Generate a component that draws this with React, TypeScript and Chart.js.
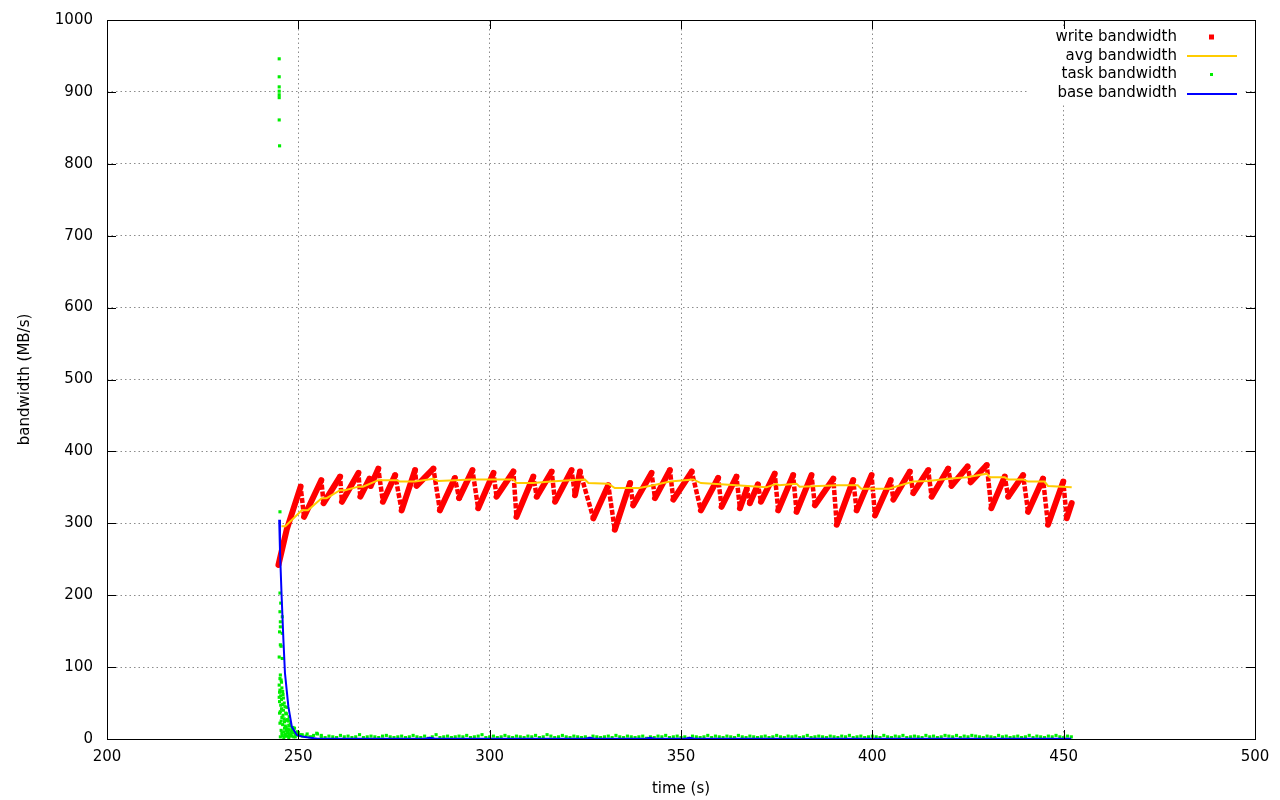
import { useEffect, useRef } from 'react';
import { Chart, registerables } from 'chart.js';

Chart.register(...registerables);

const FONT_FAMILY = '"DejaVu Sans", "Noto Sans", sans-serif';
const FONT_SIZE = 15;

// write bandwidth: sawtooth vertices (time s, MB/s)
const writeTimes = [
  244.8, 247.0, 250.6, 251.5, 256.0, 256.6, 260.9, 261.4, 265.7, 266.2,
  268.6, 268.9, 270.9, 272.1, 275.3, 277.0, 280.5, 280.9, 285.3, 287.0,
  290.9, 292.0, 295.5, 297.0, 301.0, 301.8, 306.2, 307.0, 311.4, 312.3,
  316.2, 317.1, 321.4, 322.3, 323.6, 327.1, 331.0, 332.7, 336.7, 337.5,
  342.3, 343.2, 347.1, 348.0, 352.8, 355.2, 359.7, 360.6, 364.5, 365.4,
  367.2, 368.0, 370.1, 370.9, 374.5, 375.4, 379.3, 380.2, 384.1, 385.0,
  389.8, 390.7, 395.0, 395.9, 399.8, 400.7, 404.8, 405.5, 409.8, 410.7,
  414.6, 415.5, 419.8, 420.7, 424.9, 425.7, 429.9, 431.1, 434.6, 435.5,
  439.4, 440.7, 444.6, 445.9, 449.9, 450.8, 452.1,
];
const writeValues = [
  242, 292, 351, 309, 360, 328, 365, 330, 370, 337,
  362, 352, 376, 330, 367, 318, 374, 352, 376, 318,
  363, 335, 374, 321, 370, 337, 372, 309, 365, 337,
  372, 330, 374, 339, 372, 307, 353, 291, 356, 325,
  370, 335, 374, 333, 372, 318, 363, 323, 365, 321,
  348, 328, 354, 330, 369, 318, 367, 316, 367, 325,
  362, 298, 360, 318, 367, 311, 360, 333, 372, 342,
  374, 337, 376, 352, 379, 357, 381, 321, 365, 337,
  367, 316, 362, 298, 358, 307, 328,
];

// avg bandwidth
const avgTimes = [
  245.6, 246.6, 250.9, 252.5, 256.1, 257.4, 260.9, 262.2, 265.7, 266.9,
  270.9, 275.7, 276.5, 280.5, 285.3, 286.5, 291.0, 295.0, 306.2, 307.0,
  311.4, 316.0, 321.0, 324.9, 325.8, 331.0, 332.7, 339.1, 342.8, 347.1,
  353.2, 355.2, 364.5, 372.3, 374.9, 375.6, 380.2, 381.0, 391.0, 396.2,
  397.1, 404.3, 410.7, 414.6, 419.8, 424.7, 429.9, 430.7, 434.6, 435.5,
  439.4, 440.7, 445.0, 445.9, 452.1,
];
const avgValues = [
  296, 296, 318, 318, 335, 335, 346, 346, 351, 351,
  360, 360, 358, 358, 362, 359, 360, 361, 361, 356,
  356, 358, 360, 361, 356, 355, 349, 349, 353, 358,
  361, 356, 353, 350, 355, 353, 355, 351, 353, 353,
  348, 348, 358, 359, 362, 364, 369, 364, 364, 361,
  361, 358, 358, 352, 350,
];

// task bandwidth: start-up burst
const taskBurstTimes = [
  245.0, 245.0, 245.0, 245.0, 245.0, 245.0, 245.0, 245.1, 245.2, 245.2,
  245.4, 245.2, 245.8, 245.3, 245.3, 245.1, 245.8, 245.3, 245.5, 245.0,
  245.8, 245.3, 245.5, 245.0, 245.2, 245.4, 245.1, 245.6, 245.9, 246.1,
  245.3, 245.7, 246.3, 245.2, 245.9, 246.6, 245.5, 246.2, 246.9, 247.3,
  245.8, 246.5, 247.7, 248.2, 248.8, 249.5, 245.1, 245.6, 246.0, 246.4,
  246.8, 247.1, 247.5, 248.0, 248.5, 249.0, 249.3, 245.0, 245.4, 245.7,
  246.0, 246.3, 246.7, 247.0, 247.2, 247.6, 247.9, 248.3, 248.6, 249.1,
  249.7, 250.4, 245.2, 245.6, 246.1, 246.5, 246.9, 247.4, 247.8, 248.4,
  245.1, 245.5, 245.9, 246.4, 246.8, 247.2, 247.6, 248.1, 245.3, 245.7,
  246.2, 246.6, 247.0, 247.5, 248.7, 249.2, 250.1, 251.0, 252.3, 253.6,
  254.8, 256.0,
];
const taskBurstValues = [
  946, 921, 907, 901, 896, 892, 861, 825, 316, 203,
  189, 177, 170, 163, 156, 149, 147, 131, 129, 114,
  112, 89, 82, 75, 68, 60, 52, 55, 48, 40,
  38, 30, 28, 22, 20, 18, 12, 10, 12, 8,
  5, 4, 6, 4, 3, 6, 65, 42, 33, 24,
  16, 14, 19, 9, 13, 15, 7, 58, 47, 71,
  62, 50, 36, 44, 27, 31, 21, 11, 16, 8,
  10, 6, 84, 79, 57, 45, 35, 25, 18, 14,
  36, 25, 66, 15, 26, 9, 13, 5, 3, 8,
  2, 7, 4, 2, 9, 3, 5, 4, 7, 3,
  8, 5,
];

// task bandwidth: steady part, one sample per second from taskBaseStart
const taskBaseStart = 250;
const taskBaseValues = [
  9, 6, 4, 3, 5, 7, 3, 2, 4, 3,
  2, 5, 3, 4, 2, 3, 6, 2, 3, 4,
  3, 2, 4, 5, 3, 2, 3, 4, 2, 3,
  5, 3, 2, 4, 1, 3, 6, 2, 3, 4,
  2, 3, 4, 3, 5, 2, 3, 4, 6, 2,
  3, 4, 2, 3, 5, 3, 2, 4, 3, 2,
  4, 3, 5, 2, 3, 6, 4, 2, 3, 5,
  3, 2, 4, 3, 2, 3, 1, 4, 3, 2,
  3, 4, 2, 5, 3, 2, 4, 3, 2, 3,
  4, 1, 3, 2, 4, 3, 5, 2, 3, 4,
  2, 3, 1, 4, 3, 2, 3, 5, 2, 4,
  3, 2, 4, 3, 2, 5, 3, 2, 4, 3,
  2, 3, 4, 2, 3, 5, 3, 2, 4, 3,
  4, 2, 3, 5, 2, 3, 4, 3, 2, 4,
  3, 2, 4, 3, 5, 2, 3, 4, 2, 3,
  4, 3, 2, 5, 3, 2, 4, 3, 5, 2,
  3, 4, 3, 2, 5, 3, 4, 2, 3, 5,
  4, 3, 5, 2, 4, 3, 5, 4, 3, 2,
  4, 3, 2, 5, 3, 4, 2, 3, 4, 2,
  3, 5, 2, 4, 3, 2, 4, 3, 5, 3,
  2, 4, 3,
];

// base bandwidth
const baseTimes = [
  245.0, 245.2, 245.6, 246.1, 246.5, 247.4, 248.3, 249.6, 251.3, 255.0,
  283.0, 284.4, 285.8, 325.0, 326.2, 327.4, 340.7, 341.9, 343.1, 351.1,
  352.3, 353.5, 452.0,
];
const baseValues = [
  305, 263, 203, 138, 92, 45, 17, 5.6, 3, 0.4,
  0.4, 1.8, 0.4, 0.4, 1.8, 0.4, 0.4, 1.8, 0.4, 0.4,
  1.8, 0.4, 0.4,
];

const xMin = 200;
const xMax = 500;
const xStep = 50;
const yMin = 0;
const yMax = 1000;
const yStep = 100;

const legendLabels = ['write bandwidth', 'avg bandwidth', 'task bandwidth', 'base bandwidth'];
const seriesColors = ['#ff0000', '#ffcc00', '#00ee00', '#0000ff'];

const pairs = (xs: number[], ys: number[]) => xs.map((x, i) => ({ x, y: ys[i] }));

const framePlugin = {
  id: 'gnuplotFrame',
  afterDatasetsDraw(chart: any) {
    const { ctx, chartArea } = chart;
    const { left, right, top, bottom } = chartArea;
    const xs = chart.scales.x;
    const ys = chart.scales.y;
    ctx.save();

    // legend box (opaque)
    ctx.fillStyle = '#ffffff';
    ctx.fillRect(1028, 28, 1244 - 1028, 104 - 28);
    ctx.font = `${FONT_SIZE}px ${FONT_FAMILY}`;
    ctx.textAlign = 'right';
    ctx.textBaseline = 'middle';
    const rowY = [37, 56, 74.5, 93.5];
    legendLabels.forEach((label, i) => {
      ctx.fillStyle = '#000000';
      ctx.fillText(label, 1177, rowY[i]);
      if (i === 0) {
        ctx.fillStyle = seriesColors[0];
        ctx.fillRect(1209, rowY[i] - 2.5, 5, 5);
      } else if (i === 2) {
        ctx.fillStyle = seriesColors[2];
        ctx.fillRect(1210, rowY[i] - 1.5, 3, 3);
      } else {
        ctx.strokeStyle = seriesColors[i];
        ctx.lineWidth = 2;
        ctx.beginPath();
        ctx.moveTo(1187, Math.round(rowY[i]));
        ctx.lineTo(1237, Math.round(rowY[i]));
        ctx.stroke();
      }
    });

    // border box
    ctx.strokeStyle = '#000000';
    ctx.lineWidth = 1;
    ctx.strokeRect(Math.round(left) + 0.5, Math.round(top) + 0.5, Math.round(right - left), Math.round(bottom - top));

    // inward tick marks on all four sides
    const tick = 9;
    ctx.beginPath();
    for (let v = xMin; v <= xMax; v += xStep) {
      const px = Math.round(xs.getPixelForValue(v)) + 0.5;
      ctx.moveTo(px, bottom);
      ctx.lineTo(px, bottom - tick);
      ctx.moveTo(px, top);
      ctx.lineTo(px, top + tick);
    }
    for (let v = yMin; v <= yMax; v += yStep) {
      const py = Math.round(ys.getPixelForValue(v)) + 0.5;
      ctx.moveTo(left, py);
      ctx.lineTo(left + tick, py);
      ctx.moveTo(right, py);
      ctx.lineTo(right - tick, py);
    }
    ctx.stroke();
    ctx.restore();
  },
};

export default function App() {
  const canvasRef = useRef<HTMLCanvasElement | null>(null);

  useEffect(() => {
    document.body.style.margin = '0';
    const canvas = canvasRef.current;
    if (!canvas) return;

    const taskData = [
      ...pairs(taskBurstTimes, taskBurstValues),
      ...taskBaseValues.map((y, i) => ({ x: taskBaseStart + i, y })),
    ];

    const falling = (c: any) => c.p1.parsed.y < c.p0.parsed.y;

    const chart = new Chart(canvas, {
      type: 'scatter',
      data: {
        datasets: [
          {
            label: legendLabels[0],
            data: pairs(writeTimes, writeValues),
            showLine: true,
            borderColor: seriesColors[0],
            backgroundColor: seriesColors[0],
            borderWidth: 6,
            pointRadius: 0,
            tension: 0,
            borderCapStyle: 'round',
            borderJoinStyle: 'round',
            segment: {
              borderDash: (c: any) => (falling(c) ? [0.6, 6.2] : undefined),
              borderWidth: (c: any) => (falling(c) ? 4.5 : 6),
              borderCapStyle: (c: any) => (falling(c) ? 'square' : 'round'),
            },
            order: 4,
          } as any,
          {
            label: legendLabels[1],
            data: pairs(avgTimes, avgValues),
            showLine: true,
            borderColor: seriesColors[1],
            backgroundColor: seriesColors[1],
            borderWidth: 2,
            pointRadius: 0,
            tension: 0,
            order: 3,
          },
          {
            label: legendLabels[2],
            data: taskData,
            showLine: false,
            pointStyle: 'rect',
            pointRadius: 2.2,
            borderWidth: 0,
            backgroundColor: seriesColors[2],
            borderColor: seriesColors[2],
            order: 2,
          },
          {
            label: legendLabels[3],
            data: pairs(baseTimes, baseValues),
            showLine: true,
            borderColor: seriesColors[3],
            backgroundColor: seriesColors[3],
            borderWidth: 2,
            pointRadius: 0,
            tension: 0,
            order: 1,
          },
        ],
      },
      options: {
        animation: false,
        responsive: false,
        devicePixelRatio: 1,
        layout: { padding: { top: 20, right: 25, left: 0, bottom: 0 } },
        plugins: {
          legend: { display: false },
          tooltip: { enabled: false },
        },
        scales: {
          x: {
            type: 'linear',
            min: xMin,
            max: xMax,
            afterFit: (s: any) => {
              s.height = 61;
              s.paddingLeft = 0;
              s.paddingRight = 0;
            },
            ticks: {
              stepSize: xStep,
              padding: 9,
              color: '#000000',
              font: { family: FONT_FAMILY, size: FONT_SIZE },
              callback: (v: any) => String(v),
            },
            grid: { color: '#8c8c8c', lineWidth: 1, drawTicks: false },
            border: { display: false, dash: [1.5, 3] },
            title: {
              display: true,
              text: 'time (s)',
              color: '#000000',
              font: { family: FONT_FAMILY, size: FONT_SIZE },
              padding: { top: 0, bottom: 2 },
            },
          },
          y: {
            type: 'linear',
            min: yMin,
            max: yMax,
            afterFit: (s: any) => {
              s.width = 107;
              s.paddingTop = 0;
              s.paddingBottom = 0;
            },
            ticks: {
              stepSize: yStep,
              padding: 14,
              color: '#000000',
              font: { family: FONT_FAMILY, size: FONT_SIZE },
              callback: (v: any) => String(v),
            },
            grid: { color: '#8c8c8c', lineWidth: 1, drawTicks: false },
            border: { display: false, dash: [1.5, 3] },
            title: {
              display: true,
              text: 'bandwidth (MB/s)',
              color: '#000000',
              font: { family: FONT_FAMILY, size: FONT_SIZE },
              padding: { top: 16, bottom: 0 },
            },
          },
        },
      },
      plugins: [framePlugin],
    });

    return () => chart.destroy();
  }, []);

  return (
    <div style={{ width: 1280, height: 800, background: '#ffffff' }}>
      <canvas ref={canvasRef} width={1280} height={800} style={{ display: 'block' }} />
    </div>
  );
}
